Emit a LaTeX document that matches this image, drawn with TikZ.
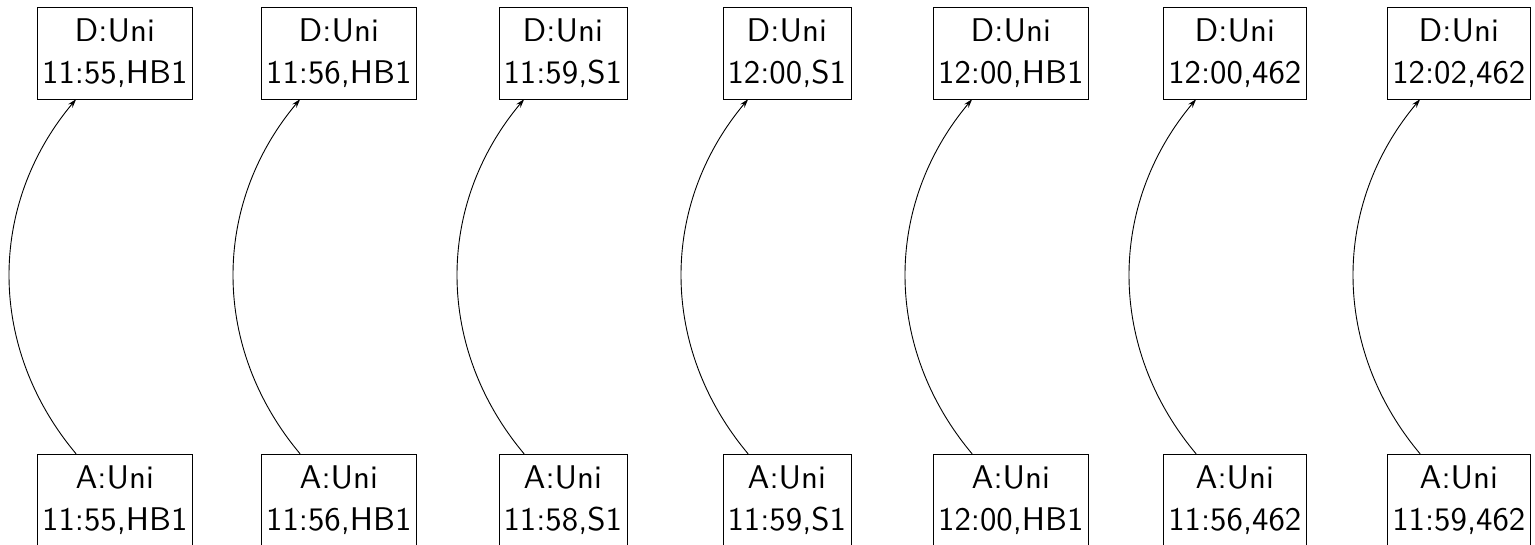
\documentclass[tikz,border=0pt]{standalone}
\usetikzlibrary{arrows.meta}
\begin{document}
\begin{tikzpicture}[x=1pt,y=1pt,
  ev/.style={draw, line width=0.25pt, rectangle, align=center,
    scale=3.28, transform shape,
    font=\sffamily\fontsize{10}{13}\selectfont,
    inner xsep=1.5pt, inner ysep=0pt, minimum height=27.87pt},
  arr/.style={line width=0.9pt, -{Stealth[length=9pt,width=5.5pt]}}]
\useasboundingbox (0,0) rectangle (1535,-544);
\foreach \i/\d/\a in {1/{11:55,HB1}/{11:55,HB1},2/{11:56,HB1}/{11:56,HB1},
  3/{11:59,S1}/{11:58,S1},4/{12:00,S1}/{11:59,S1},5/{12:00,HB1}/{12:00,HB1},
  6/{12:00,462}/{11:56,462},7/{12:02,462}/{11:59,462}}{
  \node[ev] (d\i) at ({114.8+224*(\i-1)},-53) {D:Uni\\\d};
  \node[ev] (a\i) at ({114.8+224*(\i-1)},-500) {A:Uni\\\a};
  \draw[arr] (a\i) to[bend left=40] (d\i);
}
\end{tikzpicture}
\end{document}
